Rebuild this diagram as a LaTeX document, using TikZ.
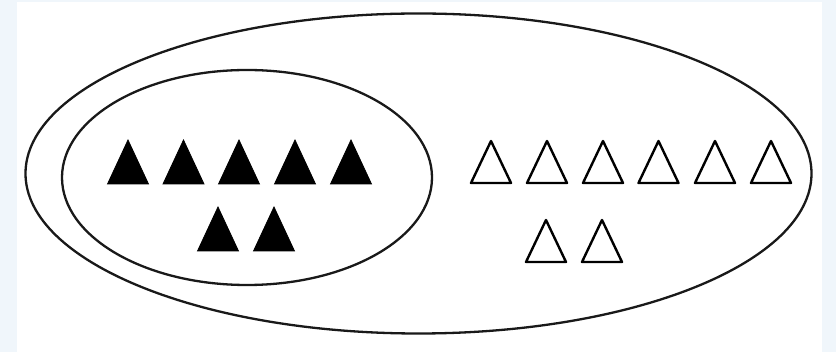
\documentclass[tikz,border=0pt]{standalone}
\definecolor{edgeblue}{HTML}{F0F6FB}
\tikzset{
  setline/.style={draw=black!90, line width=2.3pt},
  fulltri/.style={fill=black, draw=black, line width=0.8pt, line join=miter},
  opentri/.style={draw=black, line width=2.4pt, fill=white, line join=round},
}
\newcommand{\ftri}[3]{\filldraw[fulltri] (#2-20.5,#3+44) -- (#2,#3) -- (#2+20.5,#3+44) -- cycle; \coordinate (#1) at (#2,#3);}
\newcommand{\otri}[3]{\draw[opentri] (#2-20,#3+42) -- (#2,#3) -- (#2+20,#3+42) -- cycle; \coordinate (#1) at (#2,#3);}
\begin{document}
\begin{tikzpicture}[x=1pt,y=-1pt]
\fill[edgeblue] (0,0) rectangle (836,352);
\fill[white] (17,2) rectangle (822,352);
\useasboundingbox (0,0) rectangle (836,352);
\draw[setline] (418.5,173.5) ellipse [x radius=393, y radius=160];
\draw[setline] (247,177.5) ellipse [x radius=185, y radius=107.5];
\foreach \x [count=\i] in {128,183.5,239,295,351} {\ftri{f\i}{\x}{140}}
\ftri{f6}{218}{207}
\ftri{f7}{274}{207}
\foreach \x [count=\i] in {491,547,603,658.5,715,771} {\otri{o\i}{\x}{141}}
\otri{o7}{546}{220}
\otri{o8}{602}{220}
\end{tikzpicture}
\end{document}
